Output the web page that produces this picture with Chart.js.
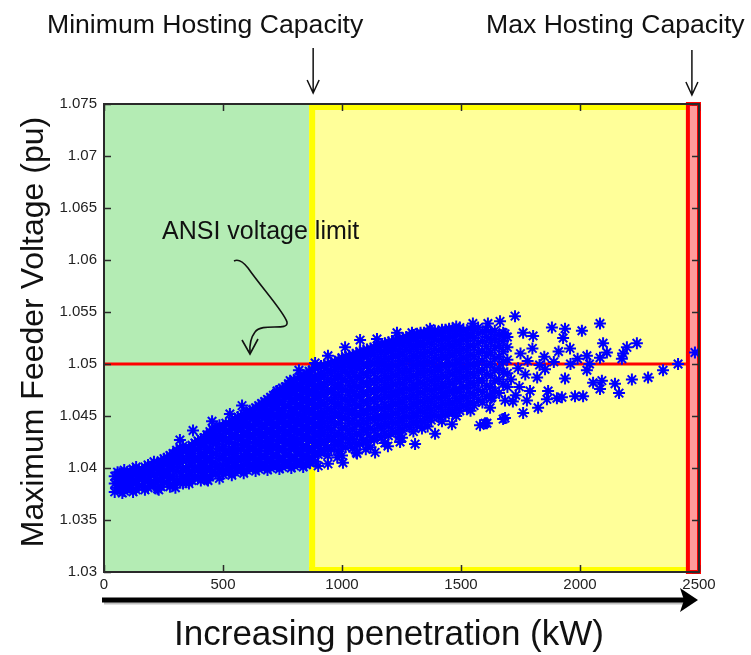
<!DOCTYPE html>
<html>
<head>
<meta charset="utf-8">
<script src="https://cdn.jsdelivr.net/npm/chart.js@4.4.1/dist/chart.umd.min.js"></script>
<style>
  html, body { margin: 0; padding: 0; background: #ffffff; }
  #wrap { width: 751px; height: 655px; position: relative; }
</style>
</head>
<body>
<div id="wrap"><canvas id="hosting-chart" width="751" height="655"></canvas></div>
<script>
// axis setup
const xTicksKW = [0, 500, 1000, 1500, 2000, 2500];
const yTicksPU = [1.03, 1.035, 1.04, 1.045, 1.05, 1.055, 1.06, 1.065, 1.07, 1.075];

// hosting capacity marks and ANSI limit
const hostingMinKW = 862;
const hostingMaxKW = 2445;
const ansiLimitPU = 1.05;
const ansiLineKW = [0, 2445];

// dense part of the cloud, read column by column: [kW, pu, pu, ...]
const cloudColumns = [
  [45, 1.0377, 1.0385, 1.0392],
  [65, 1.0380, 1.0387, 1.0395],
  [85, 1.0378, 1.0386, 1.0393, 1.0398],
  [110, 1.0381, 1.0389, 1.0396],
  [135, 1.0379, 1.0388, 1.0395, 1.0401],
  [160, 1.0383, 1.0390, 1.0398],
  [185, 1.0381, 1.0389, 1.0397, 1.0403],
  [210, 1.0384, 1.0393, 1.0400, 1.0406],
  [240, 1.0382, 1.0391, 1.0399, 1.0407],
  [265, 1.0386, 1.0394, 1.0403, 1.0410],
  [290, 1.0384, 1.0392, 1.0401, 1.0408, 1.0414],
  [320, 1.0388, 1.0396, 1.0405, 1.0412, 1.0419],
  [345, 1.0389, 1.0398, 1.0407, 1.0416],
  [370, 1.0388, 1.0397, 1.0406, 1.0414, 1.0422],
  [395, 1.0391, 1.0400, 1.0409, 1.0418, 1.0426],
  [420, 1.0393, 1.0402, 1.0411, 1.0421, 1.0429],
  [445, 1.0392, 1.0401, 1.0410, 1.0419, 1.0428, 1.0435],
  [470, 1.0395, 1.0404, 1.0414, 1.0423, 1.0431, 1.0438],
  [500, 1.0394, 1.0403, 1.0412, 1.0421, 1.0430, 1.0440],
  [525, 1.0397, 1.0406, 1.0415, 1.0425, 1.0434, 1.0442],
  [550, 1.0396, 1.0405, 1.0414, 1.0423, 1.0432, 1.0441, 1.0447],
  [575, 1.0399, 1.0408, 1.0418, 1.0427, 1.0436, 1.0444, 1.0450],
  [600, 1.0398, 1.0407, 1.0416, 1.0425, 1.0434, 1.0443, 1.0453],
  [625, 1.0401, 1.0410, 1.0419, 1.0429, 1.0438, 1.0447, 1.0456],
  [650, 1.0399, 1.0408, 1.0417, 1.0426, 1.0435, 1.0444, 1.0453, 1.0460],
  [675, 1.0402, 1.0411, 1.0421, 1.0430, 1.0439, 1.0448, 1.0457, 1.0464],
  [700, 1.0400, 1.0409, 1.0418, 1.0427, 1.0436, 1.0445, 1.0455, 1.0463, 1.0468],
  [725, 1.0403, 1.0412, 1.0421, 1.0431, 1.0440, 1.0449, 1.0458, 1.0466, 1.0472],
  [750, 1.0401, 1.0410, 1.0419, 1.0428, 1.0437, 1.0446, 1.0455, 1.0464, 1.0473, 1.0477],
  [775, 1.0404, 1.0413, 1.0423, 1.0432, 1.0441, 1.0450, 1.0459, 1.0468, 1.0476, 1.0481],
  [800, 1.0402, 1.0411, 1.0420, 1.0429, 1.0438, 1.0447, 1.0457, 1.0466, 1.0475, 1.0484],
  [825, 1.0405, 1.0414, 1.0423, 1.0433, 1.0442, 1.0451, 1.0460, 1.0469, 1.0478, 1.0487],
  [850, 1.0403, 1.0412, 1.0421, 1.0430, 1.0439, 1.0448, 1.0457, 1.0466, 1.0475, 1.0484, 1.0491],
  [875, 1.0410, 1.0419, 1.0429, 1.0438, 1.0447, 1.0456, 1.0465, 1.0474, 1.0483, 1.0494],
  [900, 1.0413, 1.0422, 1.0431, 1.0440, 1.0450, 1.0459, 1.0468, 1.0477, 1.0486, 1.0496],
  [925, 1.0416, 1.0425, 1.0434, 1.0443, 1.0452, 1.0461, 1.0471, 1.0480, 1.0489, 1.0499],
  [955, 1.0418, 1.0427, 1.0436, 1.0445, 1.0454, 1.0464, 1.0473, 1.0482, 1.0491, 1.0501],
  [985, 1.0416, 1.0425, 1.0434, 1.0443, 1.0453, 1.0462, 1.0471, 1.0480, 1.0489, 1.0497, 1.0504],
  [1015, 1.0420, 1.0429, 1.0438, 1.0448, 1.0457, 1.0466, 1.0475, 1.0484, 1.0493, 1.0501, 1.0507],
  [1045, 1.0419, 1.0428, 1.0437, 1.0446, 1.0455, 1.0465, 1.0474, 1.0483, 1.0492, 1.0500, 1.0509],
  [1075, 1.0423, 1.0432, 1.0442, 1.0451, 1.0460, 1.0469, 1.0478, 1.0487, 1.0496, 1.0505, 1.0512],
  [1105, 1.0425, 1.0434, 1.0443, 1.0452, 1.0462, 1.0471, 1.0480, 1.0489, 1.0498, 1.0507, 1.0514],
  [1135, 1.0427, 1.0436, 1.0446, 1.0455, 1.0464, 1.0473, 1.0482, 1.0491, 1.0500, 1.0509, 1.0516],
  [1165, 1.0429, 1.0438, 1.0447, 1.0457, 1.0466, 1.0475, 1.0484, 1.0493, 1.0502, 1.0511, 1.0519],
  [1195, 1.0431, 1.0440, 1.0449, 1.0458, 1.0468, 1.0477, 1.0486, 1.0495, 1.0504, 1.0513, 1.0521],
  [1225, 1.0434, 1.0443, 1.0452, 1.0461, 1.0470, 1.0480, 1.0489, 1.0498, 1.0507, 1.0515, 1.0523],
  [1255, 1.0436, 1.0445, 1.0454, 1.0463, 1.0472, 1.0481, 1.0491, 1.0500, 1.0509, 1.0518, 1.0525],
  [1285, 1.0439, 1.0448, 1.0457, 1.0466, 1.0475, 1.0484, 1.0493, 1.0503, 1.0512, 1.0520, 1.0527],
  [1315, 1.0441, 1.0450, 1.0459, 1.0468, 1.0477, 1.0487, 1.0496, 1.0505, 1.0514, 1.0522, 1.0529],
  [1345, 1.0444, 1.0453, 1.0462, 1.0471, 1.0480, 1.0489, 1.0498, 1.0507, 1.0516, 1.0525, 1.0530],
  [1375, 1.0446, 1.0455, 1.0464, 1.0474, 1.0483, 1.0492, 1.0501, 1.0510, 1.0519, 1.0527, 1.0532],
  [1405, 1.0449, 1.0458, 1.0467, 1.0476, 1.0485, 1.0494, 1.0504, 1.0513, 1.0522, 1.0530],
  [1435, 1.0451, 1.0460, 1.0469, 1.0478, 1.0488, 1.0497, 1.0506, 1.0515, 1.0524, 1.0533],
  [1465, 1.0453, 1.0462, 1.0472, 1.0481, 1.0490, 1.0499, 1.0508, 1.0517, 1.0526, 1.0534],
  [1495, 1.0455, 1.0464, 1.0473, 1.0483, 1.0492, 1.0501, 1.0510, 1.0519, 1.0528, 1.0535],
  [1525, 1.0458, 1.0467, 1.0477, 1.0486, 1.0495, 1.0504, 1.0513, 1.0522, 1.0530],
  [1555, 1.0460, 1.0470, 1.0479, 1.0489, 1.0498, 1.0507, 1.0516, 1.0525, 1.0533],
  [1590, 1.0463, 1.0473, 1.0484, 1.0494, 1.0503, 1.0512, 1.0522, 1.0531],
  [1625, 1.0467, 1.0478, 1.0489, 1.0500, 1.0511, 1.0521, 1.0530],
  [1660, 1.0472, 1.0485, 1.0496, 1.0507, 1.0518, 1.0528],
  [1695, 1.0478, 1.0491, 1.0504, 1.0516, 1.0526]
];

// second pass over the same cloud, the stars lying between the first set
const cloudColumnsB = [
  [57, 1.0381, 1.0389, 1.0396],
  [77, 1.0376, 1.0384, 1.0391],
  [97, 1.0382, 1.0390, 1.0396],
  [122, 1.0377, 1.0385, 1.0393, 1.0399],
  [147, 1.0383, 1.0392, 1.0398],
  [172, 1.0379, 1.0387, 1.0394, 1.0401],
  [197, 1.0385, 1.0393, 1.0401],
  [225, 1.0380, 1.0388, 1.0396, 1.0404],
  [252, 1.0386, 1.0395, 1.0403, 1.0409],
  [277, 1.0382, 1.0390, 1.0398, 1.0406, 1.0412],
  [305, 1.0388, 1.0397, 1.0405, 1.0411, 1.0417],
  [332, 1.0385, 1.0392, 1.0400, 1.0409, 1.0416, 1.0421],
  [357, 1.0385, 1.0393, 1.0402, 1.0411, 1.0419],
  [382, 1.0392, 1.0401, 1.0410, 1.0418, 1.0424],
  [407, 1.0388, 1.0396, 1.0405, 1.0414, 1.0422, 1.0428],
  [432, 1.0389, 1.0398, 1.0407, 1.0416, 1.0425, 1.0432],
  [457, 1.0396, 1.0405, 1.0414, 1.0424, 1.0432, 1.0437],
  [485, 1.0390, 1.0399, 1.0409, 1.0418, 1.0427, 1.0435, 1.0441],
  [512, 1.0398, 1.0408, 1.0417, 1.0426, 1.0435, 1.0443],
  [537, 1.0393, 1.0401, 1.0410, 1.0419, 1.0429, 1.0438, 1.0445],
  [562, 1.0400, 1.0409, 1.0418, 1.0428, 1.0437, 1.0445, 1.0449],
  [587, 1.0395, 1.0403, 1.0412, 1.0422, 1.0431, 1.0440, 1.0448, 1.0452],
  [612, 1.0402, 1.0411, 1.0420, 1.0430, 1.0439, 1.0448, 1.0455],
  [637, 1.0397, 1.0405, 1.0414, 1.0424, 1.0433, 1.0442, 1.0451, 1.0458],
  [662, 1.0403, 1.0412, 1.0421, 1.0431, 1.0440, 1.0449, 1.0457, 1.0462],
  [687, 1.0398, 1.0406, 1.0416, 1.0425, 1.0434, 1.0443, 1.0452, 1.0461, 1.0466],
  [712, 1.0404, 1.0413, 1.0422, 1.0432, 1.0441, 1.0450, 1.0459, 1.0467, 1.0470],
  [737, 1.0399, 1.0407, 1.0417, 1.0426, 1.0435, 1.0444, 1.0453, 1.0462, 1.0470, 1.0475],
  [762, 1.0405, 1.0415, 1.0424, 1.0433, 1.0442, 1.0451, 1.0460, 1.0469, 1.0478],
  [787, 1.0400, 1.0408, 1.0418, 1.0427, 1.0436, 1.0445, 1.0455, 1.0464, 1.0472, 1.0480, 1.0483],
  [812, 1.0406, 1.0416, 1.0425, 1.0434, 1.0443, 1.0452, 1.0461, 1.0470, 1.0479, 1.0486],
  [837, 1.0401, 1.0409, 1.0419, 1.0428, 1.0437, 1.0446, 1.0456, 1.0465, 1.0474, 1.0482, 1.0489],
  [862, 1.0407, 1.0416, 1.0426, 1.0435, 1.0444, 1.0453, 1.0462, 1.0471, 1.0480, 1.0488, 1.0493],
  [887, 1.0406, 1.0414, 1.0424, 1.0433, 1.0442, 1.0451, 1.0461, 1.0470, 1.0479, 1.0488, 1.0496],
  [912, 1.0417, 1.0427, 1.0436, 1.0445, 1.0454, 1.0463, 1.0472, 1.0481, 1.0491, 1.0498],
  [940, 1.0412, 1.0420, 1.0430, 1.0439, 1.0448, 1.0457, 1.0466, 1.0475, 1.0485, 1.0494, 1.0500],
  [970, 1.0422, 1.0431, 1.0441, 1.0450, 1.0459, 1.0468, 1.0477, 1.0486, 1.0495, 1.0502],
  [1000, 1.0412, 1.0421, 1.0430, 1.0439, 1.0448, 1.0457, 1.0466, 1.0476, 1.0485, 1.0493, 1.0501, 1.0506],
  [1030, 1.0424, 1.0433, 1.0443, 1.0452, 1.0461, 1.0470, 1.0479, 1.0488, 1.0497, 1.0504, 1.0508],
  [1060, 1.0415, 1.0423, 1.0433, 1.0442, 1.0451, 1.0460, 1.0469, 1.0478, 1.0487, 1.0496, 1.0504, 1.0510],
  [1090, 1.0427, 1.0437, 1.0446, 1.0455, 1.0464, 1.0473, 1.0482, 1.0491, 1.0500, 1.0508, 1.0513],
  [1120, 1.0420, 1.0429, 1.0438, 1.0448, 1.0457, 1.0466, 1.0475, 1.0484, 1.0493, 1.0502, 1.0510, 1.0515],
  [1150, 1.0431, 1.0441, 1.0450, 1.0459, 1.0468, 1.0477, 1.0486, 1.0496, 1.0505, 1.0513, 1.0518],
  [1180, 1.0424, 1.0433, 1.0443, 1.0452, 1.0461, 1.0471, 1.0480, 1.0489, 1.0498, 1.0507, 1.0516, 1.0520],
  [1210, 1.0436, 1.0445, 1.0454, 1.0464, 1.0473, 1.0482, 1.0491, 1.0500, 1.0510, 1.0518, 1.0522],
  [1240, 1.0430, 1.0439, 1.0448, 1.0457, 1.0466, 1.0475, 1.0485, 1.0494, 1.0503, 1.0512, 1.0520, 1.0524],
  [1270, 1.0441, 1.0450, 1.0459, 1.0468, 1.0477, 1.0487, 1.0496, 1.0505, 1.0514, 1.0522, 1.0526],
  [1300, 1.0435, 1.0444, 1.0453, 1.0462, 1.0471, 1.0480, 1.0489, 1.0499, 1.0508, 1.0517, 1.0524, 1.0528],
  [1330, 1.0446, 1.0455, 1.0464, 1.0473, 1.0482, 1.0492, 1.0501, 1.0510, 1.0519, 1.0527, 1.0530],
  [1360, 1.0440, 1.0449, 1.0458, 1.0467, 1.0476, 1.0485, 1.0494, 1.0503, 1.0512, 1.0521, 1.0529, 1.0531],
  [1390, 1.0451, 1.0460, 1.0469, 1.0479, 1.0488, 1.0497, 1.0506, 1.0515, 1.0524, 1.0532],
  [1420, 1.0445, 1.0454, 1.0463, 1.0472, 1.0481, 1.0490, 1.0499, 1.0509, 1.0518, 1.0527, 1.0533],
  [1450, 1.0456, 1.0465, 1.0474, 1.0483, 1.0492, 1.0501, 1.0511, 1.0520, 1.0529, 1.0534],
  [1480, 1.0450, 1.0458, 1.0467, 1.0476, 1.0486, 1.0495, 1.0504, 1.0513, 1.0522, 1.0531, 1.0536],
  [1510, 1.0460, 1.0469, 1.0478, 1.0488, 1.0497, 1.0506, 1.0515, 1.0524, 1.0532],
  [1540, 1.0455, 1.0463, 1.0472, 1.0482, 1.0491, 1.0500, 1.0509, 1.0518, 1.0527, 1.0534],
  [1572, 1.0466, 1.0475, 1.0484, 1.0493, 1.0502, 1.0511, 1.0520, 1.0529, 1.0535],
  [1607, 1.0469, 1.0479, 1.0490, 1.0499, 1.0508, 1.0517, 1.0526, 1.0533],
  [1642, 1.0474, 1.0484, 1.0494, 1.0505, 1.0515, 1.0524, 1.0532],
  [1677, 1.0481, 1.0492, 1.0502, 1.0512, 1.0522, 1.0530]
];

// loose stars around the cloud: [kW, pu]
const scatterOutliers = [
  [300, 1.0381], [230, 1.0379], [319, 1.0427], [374, 1.0436], [437, 1.0388], [454, 1.0445],
  [529, 1.0452], [580, 1.0460], [727, 1.0474], [782, 1.0484], [819, 1.0494], [887, 1.0501],
  [866, 1.0405], [900, 1.0402], [941, 1.0404], [980, 1.0410], [1004, 1.0405], [1063, 1.0414],
  [1100, 1.0418], [1139, 1.0415], [1193, 1.0421], [1244, 1.0425], [1252, 1.0429], [1307, 1.0423],
  [1336, 1.0438], [1391, 1.0433], [1462, 1.0442], [1580, 1.0441], [1609, 1.0443], [1601, 1.0443],
  [941, 1.0508], [1013, 1.0516], [1055, 1.0503], [1076, 1.0523], [1147, 1.0524], [1231, 1.0530],
  [1294, 1.0530], [1370, 1.0534], [1550, 1.0539], [1613, 1.0539], [1664, 1.0541], [1727, 1.0546],
  [1685, 1.0529], [1761, 1.0530], [1803, 1.0527], [1882, 1.0535], [1937, 1.0534], [2008, 1.0532],
  [1929, 1.0525], [2084, 1.0539], [2097, 1.0520], [2239, 1.0520], [2197, 1.0516], [2113, 1.0511],
  [2181, 1.0510], [1958, 1.0515], [2029, 1.0508], [2084, 1.0506], [2176, 1.0505], [1853, 1.0495],
  [1750, 1.0510], [1780, 1.0503], [1800, 1.0515], [1830, 1.0499], [1850, 1.0507], [1890, 1.0502],
  [1910, 1.0512], [1960, 1.0500], [1990, 1.0505], [2040, 1.0500], [1770, 1.0490], [1820, 1.0487],
  [1740, 1.0496], [1745, 1.0478], [1790, 1.0474], [1710, 1.0485], [1730, 1.0470],
  [2412, 1.0500], [2483, 1.0511], [2349, 1.0494], [2286, 1.0487], [2218, 1.0485], [2147, 1.0481],
  [2092, 1.0484], [2055, 1.0482], [2164, 1.0472], [2084, 1.0476], [2029, 1.0494], [1937, 1.0486],
  [2013, 1.0469], [1979, 1.0469], [1924, 1.0468], [1903, 1.0467], [1866, 1.0474], [1861, 1.0466],
  [1824, 1.0458], [1777, 1.0465], [1761, 1.0453], [1718, 1.0464], [1685, 1.0465], [1685, 1.0448],
  [1630, 1.0468], [1622, 1.0458], [1677, 1.0447]
];

const cloudPoints = [];
cloudColumns.concat(cloudColumnsB).forEach(col => {
  for (let i = 1; i < col.length; i++) cloudPoints.push({ x: col[0], y: col[i] });
});
scatterOutliers.forEach(p => cloudPoints.push({ x: p[0], y: p[1] }));

const TEXT = '#111111';
const FONT = '"Liberation Sans", Arial, sans-serif';

// coloured zones behind the data, box and inward ticks on top
const zonesPlugin = {
  id: 'zones',
  beforeDatasetsDraw(chart) {
    const { ctx, chartArea: a, scales: { x } } = chart;
    const xMin = x.getPixelForValue(hostingMinKW);
    const xMax = x.getPixelForValue(hostingMaxKW);
    const h = a.bottom - a.top;
    ctx.save();
    ctx.fillStyle = '#b4ecb4';
    ctx.fillRect(a.left, a.top, xMin - a.left, h);
    ctx.fillStyle = '#ffff99';
    ctx.fillRect(xMin, a.top, xMax - xMin, h);
    // yellow rim on left, top and bottom
    ctx.fillStyle = '#ffff00';
    ctx.fillRect(xMin, a.top, 6, h);
    ctx.fillRect(xMin, a.top, xMax - xMin, 6);
    ctx.fillRect(xMin, a.bottom - 5, xMax - xMin, 5);
    ctx.fillStyle = '#ff9b9b';
    ctx.fillRect(xMax, a.top - 1, a.right - xMax, h + 1);
    ctx.strokeStyle = '#ff0000';
    ctx.lineWidth = 4;
    ctx.strokeRect(xMax + 2, a.top, a.right - xMax - 2, h);
    ctx.restore();
  },
  afterDatasetsDraw(chart) {
    const { ctx, chartArea: a, scales: { x, y } } = chart;
    ctx.save();
    ctx.strokeStyle = '#2a2a2a';
    ctx.lineWidth = 1.5;
    ctx.beginPath();
    xTicksKW.forEach(v => {
      const px = Math.round(x.getPixelForValue(v)) + 0.5;
      ctx.moveTo(px, a.bottom); ctx.lineTo(px, a.bottom - 7);
      ctx.moveTo(px, a.top); ctx.lineTo(px, a.top + 7);
    });
    yTicksPU.forEach(v => {
      const py = Math.round(y.getPixelForValue(v)) + 0.5;
      ctx.moveTo(a.left, py); ctx.lineTo(a.left + 7, py);
      ctx.moveTo(a.right, py); ctx.lineTo(a.right - 7, py);
    });
    ctx.stroke();
    ctx.lineWidth = 2;
    ctx.strokeRect(a.left, a.top, a.right - a.left, a.bottom - a.top);
    ctx.restore();
  }
};

// labels, arrows and axis titles around the plot
const notesPlugin = {
  id: 'notes',
  afterDraw(chart) {
    const { ctx, scales: { x } } = chart;
    ctx.save();
    ctx.fillStyle = TEXT;
    ctx.strokeStyle = TEXT;

    ctx.font = '26.6px ' + FONT;
    ctx.textBaseline = 'alphabetic';
    ctx.textAlign = 'left';
    ctx.fillText('Minimum Hosting Capacity', 47, 33);
    ctx.fillText('Max Hosting Capacity', 486, 33);

    const downArrow = (px, y0, y1) => {
      ctx.lineWidth = 1.5;
      ctx.beginPath();
      ctx.moveTo(px, y0); ctx.lineTo(px, y1);
      ctx.moveTo(px - 6, y1 - 13); ctx.lineTo(px, y1); ctx.lineTo(px + 6, y1 - 13);
      ctx.stroke();
    };
    downArrow(x.getPixelForValue(hostingMinKW) + 4, 48, 93);
    downArrow(x.getPixelForValue(hostingMaxKW) + 6, 50, 95);

    ctx.font = '25px ' + FONT;
    ctx.fillText('ANSI voltage limit', 162, 239);

    // curly pointer to the limit line
    ctx.lineWidth = 1.6;
    ctx.beginPath();
    ctx.moveTo(234, 261);
    ctx.quadraticCurveTo(240, 258, 248, 268);
    ctx.bezierCurveTo(262, 288, 284, 312, 287, 322);
    ctx.bezierCurveTo(289, 332, 262, 322, 255, 332);
    ctx.quadraticCurveTo(249, 340, 250, 353);
    ctx.stroke();
    ctx.beginPath();
    ctx.moveTo(242, 340); ctx.lineTo(250, 354); ctx.lineTo(258, 339);
    ctx.stroke();

    // big arrow under the x axis
    const yArrow = 600;
    ctx.strokeStyle = 'rgba(0,0,0,0.25)';
    ctx.lineWidth = 5;
    ctx.beginPath();
    ctx.moveTo(104, yArrow + 2); ctx.lineTo(690, yArrow + 2);
    ctx.stroke();
    ctx.strokeStyle = '#000000';
    ctx.beginPath();
    ctx.moveTo(102, yArrow); ctx.lineTo(692, yArrow);
    ctx.stroke();
    ctx.fillStyle = '#000000';
    ctx.beginPath();
    ctx.moveTo(698, yArrow);
    ctx.lineTo(680, yArrow - 12);
    ctx.lineTo(684, yArrow);
    ctx.lineTo(680, yArrow + 12);
    ctx.closePath();
    ctx.fill();

    ctx.fillStyle = TEXT;
    ctx.textAlign = 'center';
    ctx.font = '35px ' + FONT;
    ctx.fillText('Increasing penetration (kW)', 389, 645);

    ctx.translate(43, 332);
    ctx.rotate(-Math.PI / 2);
    ctx.font = '32px ' + FONT;
    ctx.fillText('Maximum Feeder Voltage (pu)', 0, 0);
    ctx.restore();
  }
};

const chart = new Chart(document.getElementById('hosting-chart'), {
  type: 'scatter',
  data: {
    datasets: [
      {
        label: 'Max feeder voltage',
        data: cloudPoints,
        pointStyle: 'star',
        pointRadius: 6,
        pointBorderWidth: 2,
        borderColor: '#0000ff',
        backgroundColor: '#0000ff',
        order: 0
      },
      {
        type: 'line',
        label: 'ANSI limit',
        data: ansiLineKW.map(v => ({ x: v, y: ansiLimitPU })),
        borderColor: '#ff0000',
        borderWidth: 3,
        pointRadius: 0,
        order: 1
      }
    ]
  },
  options: {
    responsive: false,
    animation: false,
    devicePixelRatio: 1,
    layout: { padding: { left: 0, right: 52, top: 104, bottom: 0 } },
    plugins: { legend: { display: false }, tooltip: { enabled: false } },
    scales: {
      x: {
        type: 'linear',
        min: 0,
        max: 2500,
        afterFit: s => { s.height = 83; },
        afterBuildTicks: s => { s.ticks = xTicksKW.map(v => ({ value: v })); },
        grid: { display: false, drawTicks: false },
        border: { display: false },
        ticks: {
          color: '#222',
          padding: 4,
          font: { family: FONT, size: 15 },
          callback: v => String(v)
        }
      },
      y: {
        type: 'linear',
        min: 1.03,
        max: 1.075,
        afterFit: s => { s.width = 104; },
        afterBuildTicks: s => { s.ticks = yTicksPU.map(v => ({ value: v })); },
        grid: { display: false, drawTicks: false },
        border: { display: false },
        ticks: {
          color: '#222',
          padding: 7,
          font: { family: FONT, size: 15 },
          callback: v => String(Number(v.toFixed(3)))
        }
      }
    }
  },
  plugins: [zonesPlugin, notesPlugin]
});
</script>
</body>
</html>
